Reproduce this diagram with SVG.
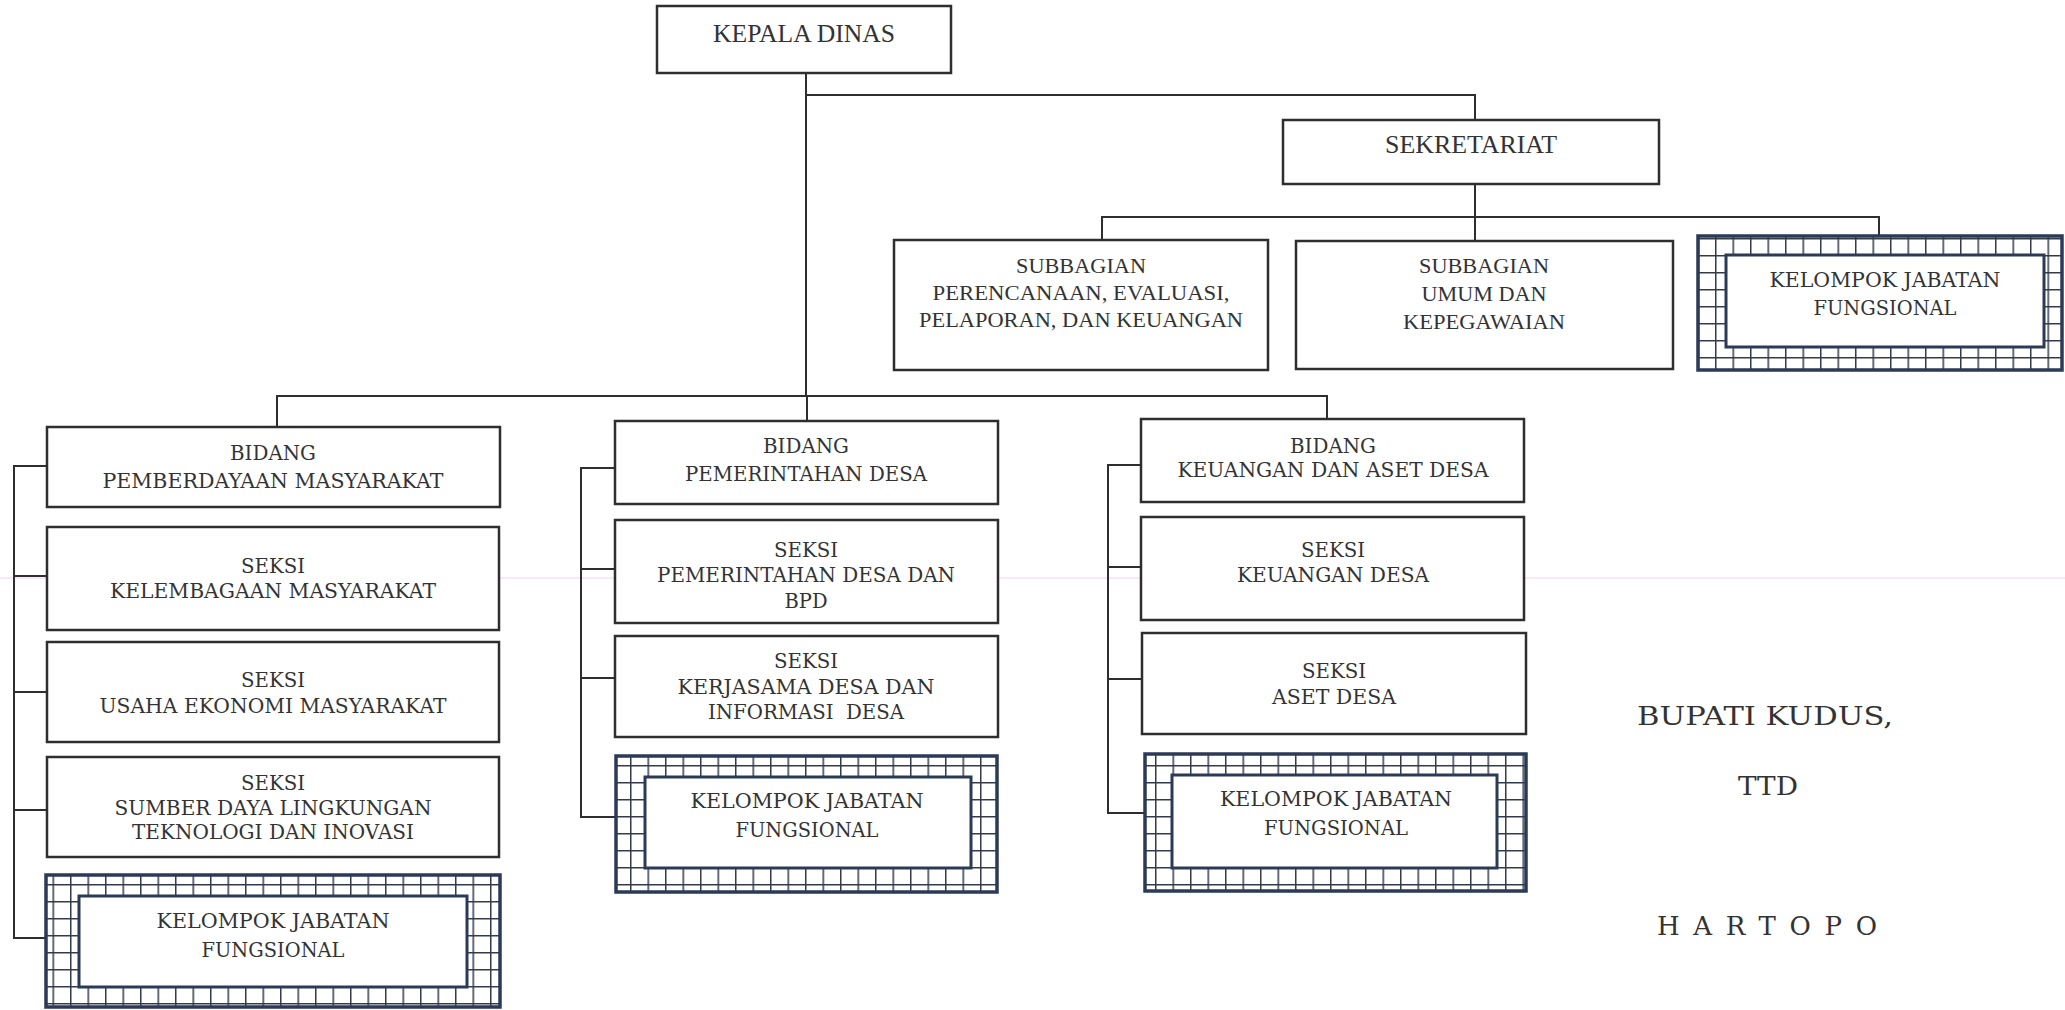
<svg xmlns="http://www.w3.org/2000/svg" width="2065" height="1010" viewBox="0 0 2065 1010">
<style>
.box{fill:#fff;stroke:#2e2e2e;stroke-width:2.5}
.con{fill:none;stroke:#2e2e2e;stroke-width:2}
.t1{font-family:"Liberation Serif","Times New Roman",serif;fill:#333;text-anchor:middle}
.t2{font-family:"DejaVu Serif",serif;font-size:20px;fill:#333;text-anchor:middle}
.sig{font-family:"DejaVu Serif",serif;font-size:26px;fill:#333;text-anchor:middle}
.kjo{fill:url(#grid);stroke:#2b3a57;stroke-width:3.5}
.kji{fill:#fff;stroke:#2b3a57;stroke-width:3}
</style>
<defs>
<pattern id="grid" patternUnits="userSpaceOnUse" width="17.5" height="17" x="0" y="0">
<rect width="17.5" height="17" fill="#fff"/>
<path d="M0 0.7H17.5M0.7 0V17" stroke="#333b4a" stroke-width="1.6" fill="none"/>
</pattern>
</defs>
<rect width="2065" height="1010" fill="#fff"/>
<line x1="0" y1="578" x2="2065" y2="578" stroke="#f2d2ee" stroke-width="1"/>

<g id="connectors">
<path class="con" d="M806 73V396"/>
<path class="con" d="M806 95H1475V120"/>
<path class="con" d="M1475 184V241"/>
<path class="con" d="M1102 240V217H1879V236"/>
<path class="con" d="M277 427V396H1327V419"/>
<path class="con" d="M807 396V421"/>
<path class="con" d="M47 466H14V938H46M14 576H47M14 692H47M14 810H47"/>
<path class="con" d="M615 468H581V817H616M581 569H615M581 678H615"/>
<path class="con" d="M1141 465H1108V813H1145M1108 567H1141M1108 679H1142"/>
</g>

<g id="kepala-dinas">
<rect class="box" x="657" y="6" width="294" height="67"/>
<text class="t1" font-size="25" x="804" y="42" textLength="182" lengthAdjust="spacingAndGlyphs">KEPALA DINAS</text>
</g>

<g id="sekretariat">
<rect class="box" x="1283" y="120" width="376" height="64"/>
<text class="t1" font-size="25" x="1471" y="153" textLength="172" lengthAdjust="spacingAndGlyphs">SEKRETARIAT</text>
</g>

<g id="subbagian-perencanaan">
<rect class="box" x="894" y="240" width="374" height="130"/>
<text class="t1" font-size="22" x="1081" y="273" textLength="130" lengthAdjust="spacingAndGlyphs">SUBBAGIAN</text>
<text class="t1" font-size="22" x="1081" y="300" textLength="297" lengthAdjust="spacingAndGlyphs">PERENCANAAN, EVALUASI,</text>
<text class="t1" font-size="22" x="1081" y="327" textLength="324" lengthAdjust="spacingAndGlyphs">PELAPORAN, DAN KEUANGAN</text>
</g>

<g id="subbagian-umum">
<rect class="box" x="1296" y="241" width="377" height="128"/>
<text class="t1" font-size="22" x="1484" y="273" textLength="130" lengthAdjust="spacingAndGlyphs">SUBBAGIAN</text>
<text class="t1" font-size="22" x="1484" y="301" textLength="125" lengthAdjust="spacingAndGlyphs">UMUM DAN</text>
<text class="t1" font-size="22" x="1484" y="329" textLength="162" lengthAdjust="spacingAndGlyphs">KEPEGAWAIAN</text>
</g>

<g id="kjf-sekretariat">
<rect class="kjo" x="1698" y="236" width="364" height="134"/>
<rect class="kji" x="1726" y="255" width="318" height="92"/>
<text class="t2" x="1885" y="287" textLength="231" lengthAdjust="spacingAndGlyphs">KELOMPOK JABATAN</text>
<text class="t2" x="1885" y="315" textLength="143" lengthAdjust="spacingAndGlyphs">FUNGSIONAL</text>
</g>

<g id="bidang-pm">
<rect class="box" x="47" y="427" width="453" height="80"/>
<text class="t2" x="273" y="460" textLength="86" lengthAdjust="spacingAndGlyphs">BIDANG</text>
<text class="t2" x="273" y="488" textLength="341" lengthAdjust="spacingAndGlyphs">PEMBERDAYAAN MASYARAKAT</text>
</g>
<g id="seksi-km">
<rect class="box" x="47" y="527" width="452" height="103"/>
<text class="t2" x="273" y="573" textLength="64" lengthAdjust="spacingAndGlyphs">SEKSI</text>
<text class="t2" x="273" y="598" textLength="326" lengthAdjust="spacingAndGlyphs">KELEMBAGAAN MASYARAKAT</text>
</g>
<g id="seksi-uem">
<rect class="box" x="47" y="642" width="452" height="100"/>
<text class="t2" x="273" y="687" textLength="64" lengthAdjust="spacingAndGlyphs">SEKSI</text>
<text class="t2" x="273" y="713" textLength="347" lengthAdjust="spacingAndGlyphs">USAHA EKONOMI MASYARAKAT</text>
</g>
<g id="seksi-sdl">
<rect class="box" x="47" y="757" width="452" height="100"/>
<text class="t2" x="273" y="790" textLength="64" lengthAdjust="spacingAndGlyphs">SEKSI</text>
<text class="t2" x="273" y="815" textLength="317" lengthAdjust="spacingAndGlyphs">SUMBER DAYA LINGKUNGAN</text>
<text class="t2" x="273" y="839" textLength="282" lengthAdjust="spacingAndGlyphs">TEKNOLOGI DAN INOVASI</text>
</g>
<g id="kjf-pm">
<rect class="kjo" x="46" y="875" width="454" height="132"/>
<rect class="kji" x="79" y="896" width="388" height="91"/>
<text class="t2" x="273" y="928" textLength="233" lengthAdjust="spacingAndGlyphs">KELOMPOK JABATAN</text>
<text class="t2" x="273" y="957" textLength="143" lengthAdjust="spacingAndGlyphs">FUNGSIONAL</text>
</g>

<g id="bidang-pd">
<rect class="box" x="615" y="421" width="383" height="83"/>
<text class="t2" x="806" y="453" textLength="86" lengthAdjust="spacingAndGlyphs">BIDANG</text>
<text class="t2" x="806" y="481" textLength="242" lengthAdjust="spacingAndGlyphs">PEMERINTAHAN DESA</text>
</g>
<g id="seksi-pdb">
<rect class="box" x="615" y="520" width="383" height="103"/>
<text class="t2" x="806" y="557" textLength="64" lengthAdjust="spacingAndGlyphs">SEKSI</text>
<text class="t2" x="806" y="582" textLength="298" lengthAdjust="spacingAndGlyphs">PEMERINTAHAN DESA DAN</text>
<text class="t2" x="806" y="608" textLength="43" lengthAdjust="spacingAndGlyphs">BPD</text>
</g>
<g id="seksi-kdid">
<rect class="box" x="615" y="636" width="383" height="101"/>
<text class="t2" x="806" y="668" textLength="64" lengthAdjust="spacingAndGlyphs">SEKSI</text>
<text class="t2" x="806" y="694" textLength="257" lengthAdjust="spacingAndGlyphs">KERJASAMA DESA DAN</text>
<text class="t2" x="806" y="719" textLength="196" lengthAdjust="spacingAndGlyphs" xml:space="preserve">INFORMASI  DESA</text>
</g>
<g id="kjf-pd">
<rect class="kjo" x="616" y="756" width="381" height="136"/>
<rect class="kji" x="645" y="777" width="326" height="91"/>
<text class="t2" x="807" y="808" textLength="233" lengthAdjust="spacingAndGlyphs">KELOMPOK JABATAN</text>
<text class="t2" x="807" y="837" textLength="143" lengthAdjust="spacingAndGlyphs">FUNGSIONAL</text>
</g>

<g id="bidang-kad">
<rect class="box" x="1141" y="419" width="383" height="83"/>
<text class="t2" x="1333" y="453" textLength="86" lengthAdjust="spacingAndGlyphs">BIDANG</text>
<text class="t2" x="1333" y="477" textLength="311" lengthAdjust="spacingAndGlyphs">KEUANGAN DAN ASET DESA</text>
</g>
<g id="seksi-kd">
<rect class="box" x="1141" y="517" width="383" height="103"/>
<text class="t2" x="1333" y="557" textLength="64" lengthAdjust="spacingAndGlyphs">SEKSI</text>
<text class="t2" x="1333" y="582" textLength="192" lengthAdjust="spacingAndGlyphs">KEUANGAN DESA</text>
</g>
<g id="seksi-ad">
<rect class="box" x="1142" y="633" width="384" height="101"/>
<text class="t2" x="1334" y="678" textLength="64" lengthAdjust="spacingAndGlyphs">SEKSI</text>
<text class="t2" x="1334" y="704" textLength="124" lengthAdjust="spacingAndGlyphs">ASET DESA</text>
</g>
<g id="kjf-kad">
<rect class="kjo" x="1145" y="754" width="381" height="137"/>
<rect class="kji" x="1172" y="775" width="325" height="93"/>
<text class="t2" x="1336" y="806" textLength="232" lengthAdjust="spacingAndGlyphs">KELOMPOK JABATAN</text>
<text class="t2" x="1336" y="835" textLength="144" lengthAdjust="spacingAndGlyphs">FUNGSIONAL</text>
</g>

<g id="signature">
<text class="sig" font-size="27" x="1765" y="725" textLength="256" lengthAdjust="spacingAndGlyphs">BUPATI KUDUS,</text>
<text class="sig" x="1768" y="795" textLength="60" lengthAdjust="spacingAndGlyphs">TTD</text>
<text class="sig" x="1767" y="935" textLength="220" lengthAdjust="spacing">HARTOPO</text>
</g>
</svg>
